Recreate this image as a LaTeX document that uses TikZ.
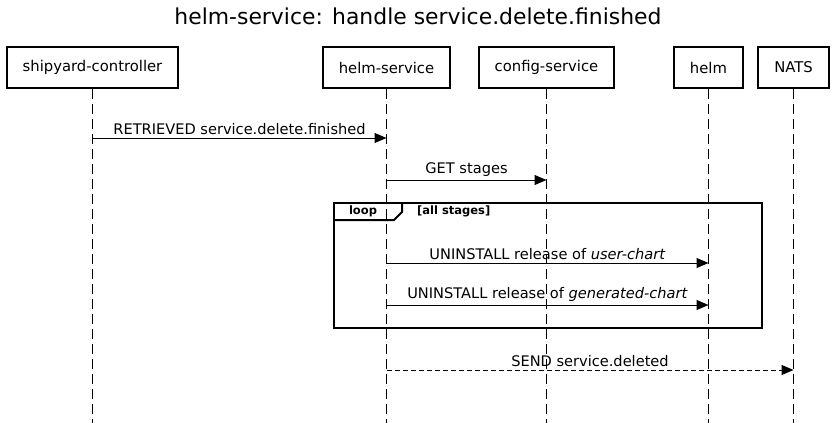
\documentclass[tikz,border=0pt]{standalone}
\usepackage{fontspec}
\setmainfont{DejaVu Sans}
\usetikzlibrary{arrows.meta}
\begin{document}
\begin{tikzpicture}[x=1pt, y=-1pt,
    actor/.style = {draw, line width=2pt, minimum height=41pt, inner sep=0pt, font=\fontsize{14.8}{17}\selectfont},
    life/.style = {dash pattern=on 10pt off 5pt, line width=1pt},
    msg/.style = {-{Triangle[length=12pt,width=10pt]}, line width=1pt},
    lbl/.style = {font=\fontsize{14.6}{17}\selectfont, inner sep=0pt}]
        \useasboundingbox (0,0) rectangle (836,423);
        \node[font=\fontsize{21.9}{26}\selectfont] (title) at (418,16) {helm-service: handle service.delete.finished};
        \node[actor, minimum width=171pt] (sc) at (92.5,67.5) {shipyard-controller};
        \node[actor, minimum width=127pt] (hs) at (386.5,67.5) {helm-service};
        \node[actor, minimum width=135pt] (cs) at (546.5,67.5) {config-service};
        \node[actor, minimum width=69pt] (helm) at (708.5,67.5) {helm};
        \node[actor, minimum width=71pt] (nats) at (793.5,67.5) {NATS};
        %
        \foreach \a in {sc, hs, cs, helm, nats}
          \draw[life] (\a.south) -- (\a.south |- 0,423);
        %
        \draw[msg] (sc.south |- 0,138) -- node[lbl, above=3pt] {RETRIEVED service.delete.finished} (hs.south |- 0,138);
        \draw[msg] (hs.south |- 0,180) -- node[lbl, above=3pt] {GET stages} (cs.south |- 0,180);
        %
        \draw[line width=2pt] (334,203) rectangle (762,328);
        \draw[line width=2pt] (334,220) -- (394,220) -- (402,212) -- (402,203);
        \node[font=\bfseries\fontsize{11.5}{13}\selectfont] (loop) at (363,211) {loop};
        \node[font=\bfseries\fontsize{11.5}{13}\selectfont, anchor=west, inner sep=0pt] (cond) at (417,211) {[all stages]};
        %
        \draw[msg] (hs.south |- 0,263) -- node[lbl, above=3pt] {UNINSTALL release of \textit{user-chart}} (helm.south |- 0,263);
        \draw[msg] (hs.south |- 0,305) -- node[lbl, above=3pt] {UNINSTALL release of \textit{generated-chart}} (helm.south |- 0,305);
        \draw[msg, dash pattern=on 5pt off 3pt] (hs.south |- 0,370) -- node[lbl, above=3pt] {SEND service.deleted} (nats.south |- 0,370);
      \end{tikzpicture}
\end{document}
